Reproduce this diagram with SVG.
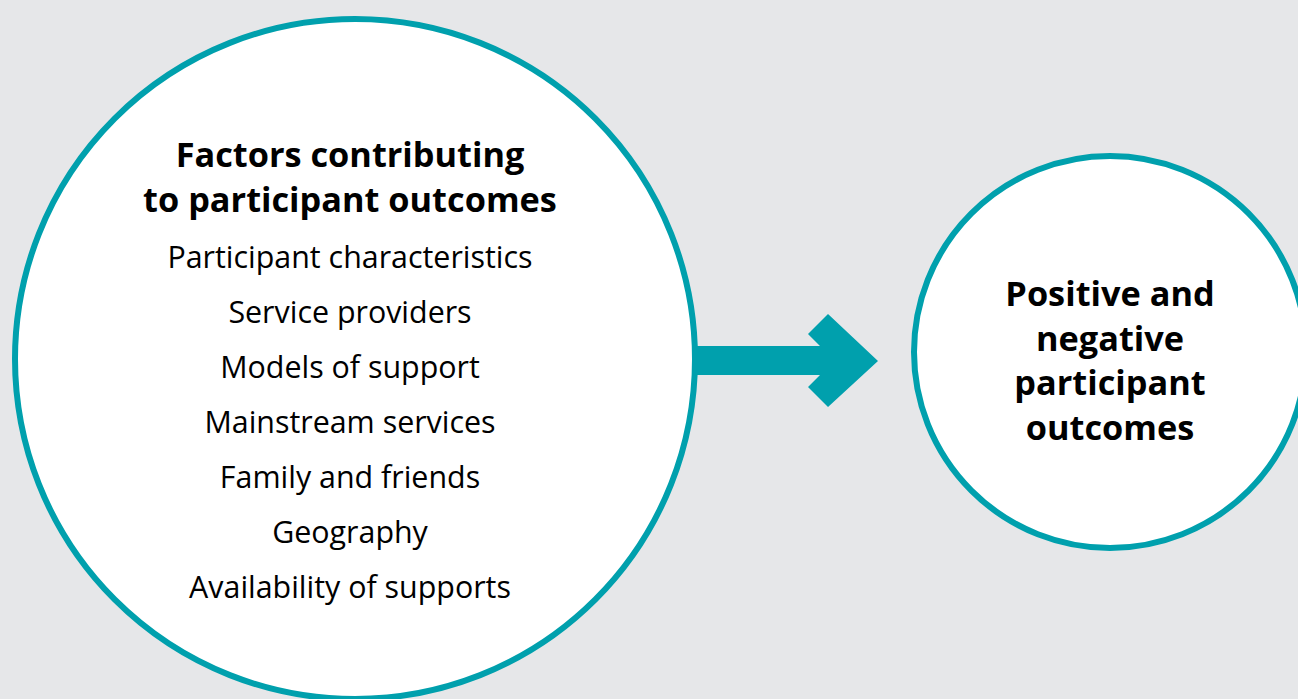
<svg xmlns="http://www.w3.org/2000/svg" width="1298" height="699" viewBox="0 0 1298 699">
<style>
.bg{fill:#e6e7e9}
.ring{fill:#ffffff;stroke:#00a0ad;stroke-width:6}
.head{font-family:"Open Sans","Liberation Sans",sans-serif;font-weight:700;font-size:34.3px;fill:#000;text-anchor:middle}
.item{font-family:"Open Sans","Liberation Sans",sans-serif;font-size:30.4px;fill:#000;text-anchor:middle}
.arrow{fill:#00a0ad}
</style>
<rect class="bg" x="0" y="0" width="1298" height="699"/>
<g id="factors">
<circle class="ring" cx="355" cy="359" r="340"/>
<text class="head" x="350" y="167">Factors contributing</text>
<text class="head" x="350" y="212">to participant outcomes</text>
<text class="item" x="350" y="268">Participant characteristics</text>
<text class="item" x="350" y="323">Service providers</text>
<text class="item" x="350" y="378">Models of support</text>
<text class="item" x="350" y="433">Mainstream services</text>
<text class="item" x="350" y="488">Family and friends</text>
<text class="item" x="350" y="543">Geography</text>
<text class="item" x="350" y="598">Availability of supports</text>
</g>
<g id="outcomes">
<circle class="ring" cx="1110" cy="352" r="196"/>
<text class="head" x="1110" y="306">Positive and</text>
<text class="head" x="1110" y="350.5">negative</text>
<text class="head" x="1110" y="395">participant</text>
<text class="head" x="1110" y="439.5">outcomes</text>
</g>
<g id="connectors">
<polygon class="arrow" points="697,346 820,346 808,334 828,314 878,361 828,407 808,387 820,375 697,375"/>
</g>
</svg>
